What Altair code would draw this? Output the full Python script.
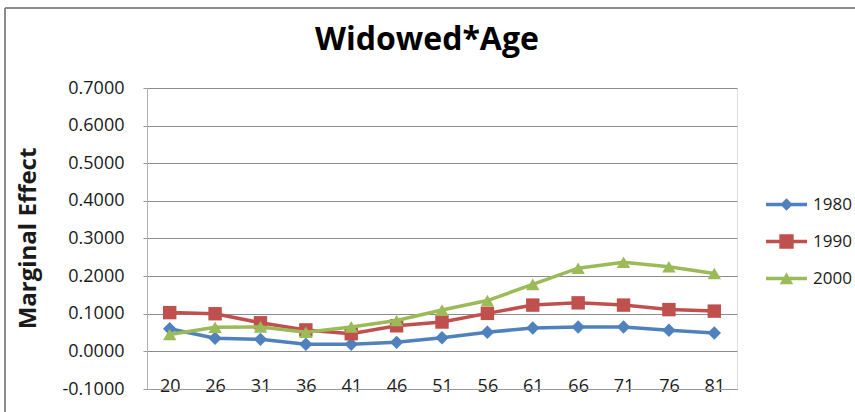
import altair as alt
import pandas as pd

# Age groups on the category axis and marginal effects by census year
ages = ["20", "26", "31", "36", "41", "46", "51", "56", "61", "66", "71", "76", "81"]
years = ["1980", "1990", "2000"]
effect_1980 = [0.060, 0.035, 0.032, 0.019, 0.019, 0.024, 0.036, 0.051, 0.062, 0.065, 0.065, 0.056, 0.049]
effect_1990 = [0.103, 0.100, 0.076, 0.057, 0.047, 0.068, 0.078, 0.101, 0.123, 0.129, 0.123, 0.111, 0.107]
effect_2000 = [0.045, 0.064, 0.065, 0.051, 0.065, 0.082, 0.110, 0.135, 0.178, 0.221, 0.237, 0.225, 0.207]
y_ticks = [-0.1, 0.0, 0.1, 0.2, 0.3, 0.4, 0.5, 0.6, 0.7]

colors = ["#4F81BD", "#C0504D", "#9BBB59"]
markers = ["diamond", "square", "triangle-up"]

rows = []
for year, vals in zip(years, [effect_1980, effect_1990, effect_2000]):
    for age, v in zip(ages, vals):
        rows.append({"Age": age, "Year": year, "Effect": v})
df = pd.DataFrame(rows)

FONT = "Open Sans"
TEXT = "#1a1a1a"

# Legend keys: a short line with the series marker in the middle
bar = "M-2,-0.17H2V0.17H-2Z"
key_paths = [
    bar + "M0,-0.6L0.6,0L0,0.6L-0.6,0Z",
    bar + "M-0.7,-0.7H0.7V0.7H-0.7Z",
    bar + "M0,-0.62L0.66,0.55H-0.66Z",
]

x_enc = alt.X(
    "Age:N",
    sort=ages,
    scale=alt.Scale(paddingOuter=0.5, paddingInner=1.0),
    axis=alt.Axis(
        title=None,
        labelAngle=0,
        labelFont=FONT,
        labelFontSize=18,
        labelColor=TEXT,
        labelBaseline="alphabetic",
        labelPadding=2,
        ticks=False,
        domainColor="#9a9a9a",
        domainWidth=1,
        grid=False,
    ),
)
y_enc = alt.Y(
    "Effect:Q",
    scale=alt.Scale(domain=[-0.1, 0.7], nice=False, zero=False),
    axis=alt.Axis(
        values=y_ticks,
        labelExpr="replace(format(datum.value, '.4f'), '\u2212', '-')",
        labelFont=FONT,
        labelFontSize=18,
        labelColor=TEXT,
        labelPadding=19,
        tickSize=4,
        tickColor="#9a9a9a",
        domainColor="#b0b0b0",
        gridColor="#8c8c8c",
        gridWidth=1,
        title="Marginal Effect",
        titleFont=FONT,
        titleFontSize=24,
        titleFontWeight="bold",
        titleColor=TEXT,
        titleAngle=-90,
        titleAlign="center",
        titleBaseline="middle",
        titleX=-119,
        titleY=150,
    ),
)

base = alt.Chart(df)

# One line + marker layer per series, drawn in series order
series_layers = []
for year, col, mk in zip(years, colors, markers):
    sub = base.transform_filter(alt.datum.Year == year)
    series_layers.append(
        sub.mark_line(strokeWidth=3.5, color=col).encode(x=x_enc, y=y_enc)
    )
    series_layers.append(
        sub.mark_point(filled=True, size=180, opacity=1, color=col, shape=mk).encode(
            x=x_enc, y=y_enc
        )
    )

# Legend: driven by color + shape scales on an empty layer
legend_layer = base.transform_filter("false").mark_point(filled=True, opacity=1).encode(
    color=alt.Color(
        "Year:N",
        scale=alt.Scale(domain=years, range=colors),
        legend=alt.Legend(
            title=None,
            orient="none",
            legendX=629,
            legendY=106,
            padding=0,
            symbolSize=420,
            symbolStrokeWidth=0,
            symbolOpacity=1,
            labelOffset=16,
            rowPadding=18,
            labelFont=FONT,
            labelFontSize=17,
            labelColor=TEXT,
        ),
    ),
    shape=alt.Shape("Year:N", scale=alt.Scale(domain=years, range=key_paths)),
)

# Thin grey frame around the whole chart
frame = base.mark_rect(fill=None, stroke="#8c8c8c", strokeWidth=1).encode(
    x=alt.value(-142), x2=alt.value(720), y=alt.value(-80), y2=alt.value(330)
)

chart = (
    alt.layer(frame, *series_layers, legend_layer)
    .properties(
        width=590,
        height=301,
        padding={"left": 147, "top": 88, "right": 118, "bottom": 23},
        autosize="none",
        title=alt.TitleParams(
            "Widowed*Age",
            font=FONT,
            fontSize=32,
            fontWeight="bold",
            color="#000000",
            anchor="middle",
            frame="group",
            baseline="alphabetic",
            dx=-15,
            offset=-74,
        ),
    )
    .configure_view(stroke=None)
    .configure(background="white")
)

chart.save("out.html", embed_options={"renderer": "svg", "actions": False})
